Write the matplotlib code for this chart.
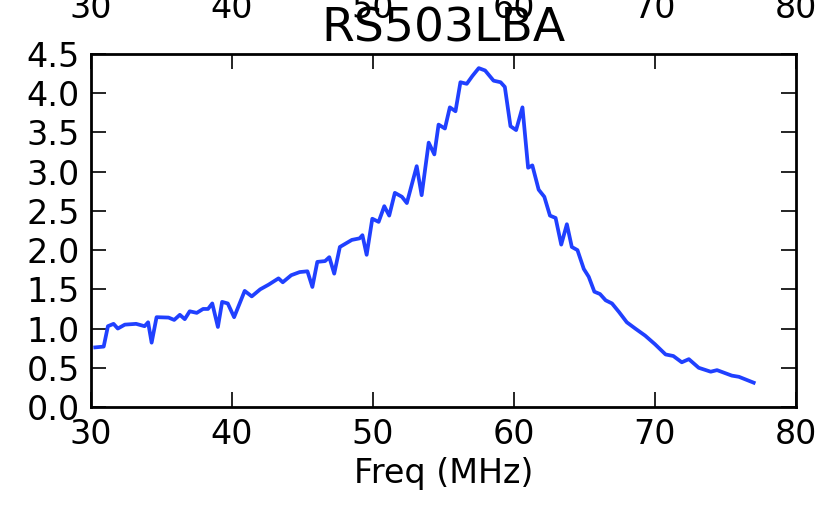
import matplotlib
matplotlib.use('Agg')
import matplotlib.pyplot as plt

freq = [30.3, 30.9, 31.2, 31.6, 31.9, 32.4, 33.2, 33.8, 34.05, 34.3,
        34.65, 35.5, 35.9, 36.3, 36.65, 37.0, 37.5, 37.95, 38.3, 38.6,
        39.0, 39.3, 39.7, 40.15, 40.9, 41.4, 42.0, 42.6, 43.3, 43.6,
        44.2, 44.8, 45.35, 45.7, 46.05, 46.6, 46.9, 47.25, 47.65, 48.5,
        49.05, 49.25, 49.55, 49.95, 50.4, 50.8, 51.15, 51.55, 52.05, 52.4,
        53.1, 53.45, 53.95, 54.35, 54.65, 55.1, 55.45, 55.85, 56.2, 56.65,
        57.05, 57.5, 57.95, 58.55, 59.05, 59.35, 59.75, 60.15, 60.6, 61.0,
        61.3, 61.75, 62.15, 62.55, 62.95, 63.35, 63.75, 64.1, 64.5, 64.95,
        65.3, 65.7, 66.1, 66.5, 66.95, 67.45, 68.0, 68.6, 69.3, 70.0,
        70.75, 71.3, 71.9, 72.4, 73.1, 73.95, 74.4, 75.45, 75.95, 77.0]
power = [0.76, 0.77, 1.03, 1.06, 1.00, 1.05, 1.06, 1.03, 1.08, 0.82,
         1.145, 1.14, 1.11, 1.175, 1.12, 1.22, 1.20, 1.25, 1.25, 1.32,
         1.02, 1.34, 1.32, 1.145, 1.48, 1.41, 1.50, 1.56, 1.64, 1.59,
         1.68, 1.72, 1.73, 1.53, 1.85, 1.86, 1.91, 1.70, 2.04, 2.13,
         2.15, 2.19, 1.94, 2.40, 2.36, 2.56, 2.44, 2.73, 2.68, 2.60,
         3.07, 2.70, 3.37, 3.22, 3.60, 3.55, 3.82, 3.77, 4.14, 4.12,
         4.22, 4.32, 4.29, 4.16, 4.14, 4.08, 3.58, 3.53, 3.82, 3.05,
         3.08, 2.77, 2.68, 2.44, 2.41, 2.07, 2.33, 2.04, 2.00, 1.76,
         1.66, 1.47, 1.44, 1.36, 1.32, 1.21, 1.08, 1.00, 0.91, 0.80,
         0.67, 0.65, 0.57, 0.61, 0.50, 0.45, 0.47, 0.40, 0.385, 0.31]
xticks = [30, 40, 50, 60, 70, 80]
yticks = [0.0, 0.5, 1.0, 1.5, 2.0, 2.5, 3.0, 3.5, 4.0, 4.5]

_fs = 24

fig = plt.figure(figsize=(8.27, 5.05), dpi=100)
ax1 = fig.add_axes([91 / 827, 98 / 505, 705 / 827, 353 / 505])

ax1.plot(freq, power, color='#2040ff', linewidth=2.7)
ax1.set_xlim([30, 80])
ax1.set_ylim([0, 4.5])
ax1.set_xticks(xticks)
ax1.set_yticks(yticks)
ax1.set_yticklabels(['%.1f' % t for t in yticks])
ax1.tick_params(axis='both', which='major', direction='in', length=11, width=1.2,
                top=True, right=True, labelsize=_fs, pad=8)
for s in ax1.spines.values():
    s.set_linewidth(2)
ax1.set_xlabel('Freq (MHz)', fontsize=_fs, labelpad=4)
ax1.set_title('RS503LBA', fontsize=34, pad=9)

# tick labels of the panel above, partly cut by the top of the figure
ax0 = fig.add_axes([91 / 827, 1.0 + 19 / 505, 705 / 827, 0.2])
ax0.set_xlim([30, 80])
ax0.set_xticks(xticks)
ax0.set_yticks([])
ax0.tick_params(axis='x', direction='in', length=0, labelsize=_fs, pad=8)
for s in ax0.spines.values():
    s.set_visible(False)
ax0.patch.set_visible(False)

fig.savefig('out.png', dpi=100)
